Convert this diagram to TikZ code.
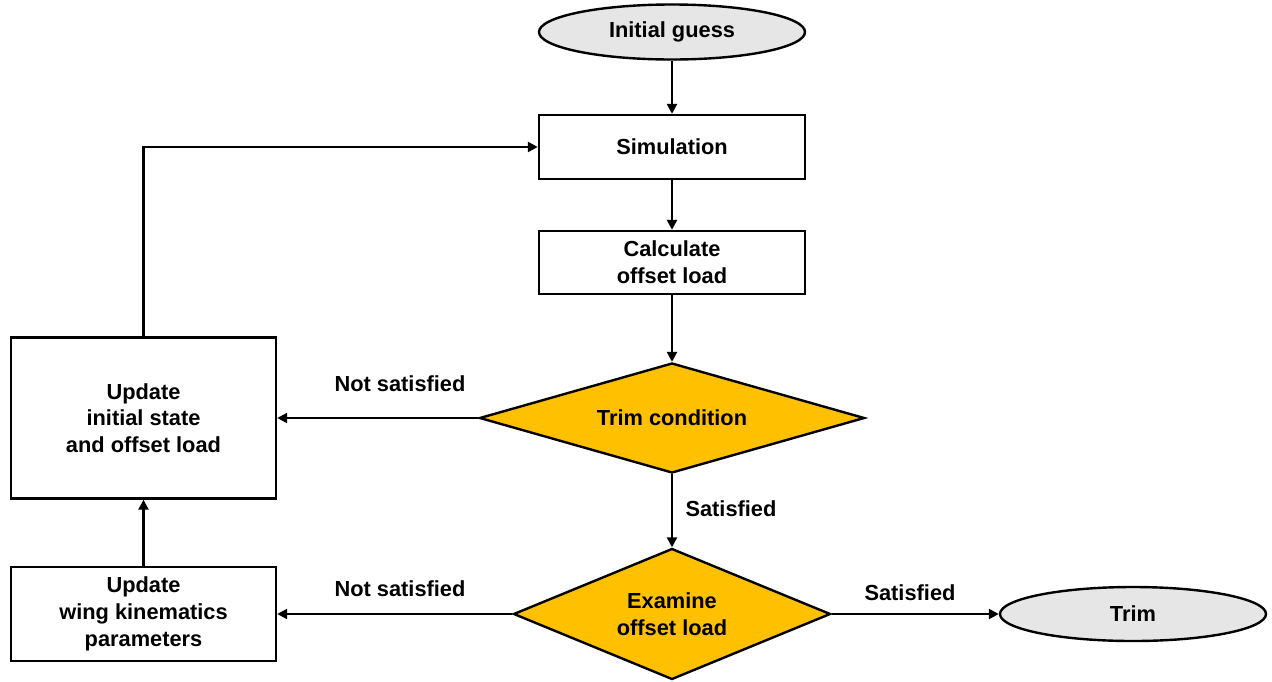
\documentclass[tikz,border=0pt]{standalone}
\usepackage{fontspec}
\setmainfont{Liberation Sans}
\usetikzlibrary{shapes.geometric,arrows.meta}
\definecolor{gold}{HTML}{FFC000}
\definecolor{lgray}{HTML}{E6E6E6}
\begin{document}
\begin{tikzpicture}[x=1pt,y=-1pt,
  every node/.style={font=\fontsize{21.8}{26.7}\selectfont\bfseries, align=center},
  boxnode/.style={draw, line width=2.4pt, fill=white, inner sep=0pt},
  ovalnode/.style={draw, line width=2.4pt, fill=lgray, ellipse, inner sep=0pt, minimum width=266pt, minimum height=55pt},
  decnode/.style={draw, line width=2.4pt, fill=gold, diamond, inner sep=0pt},
  lbl/.style={inner sep=0pt},
  conn/.style={line width=2.4pt, -{Triangle[length=10pt,width=10pt]}}]
\useasboundingbox (0,0) rectangle (1272,681);
\node[ovalnode] (init) at (672,32) {Initial guess};
\node[boxnode, minimum width=266pt, minimum height=64pt] (sim) at (672,147) {Simulation};
\node[boxnode, minimum width=266pt, minimum height=63pt] (calc) at (672,262.5) {Calculate\\offset load};
\node[decnode, aspect=3.5, minimum width=385pt, minimum height=110pt] (trimc) at (672,418) {Trim condition};
\node[boxnode, minimum width=265pt, minimum height=161pt] (upd1) at (143.5,418) {Update\\initial state\\and offset load};
\node[boxnode, minimum width=265pt, minimum height=94pt] (upd2) at (143.5,614) {Update\\wing kinematics\\parameters};
\node[decnode, aspect=2.4, minimum width=317pt, minimum height=131pt] (exam) at (672,614) {Examine\\offset load};
\node[ovalnode, minimum height=54pt] (trim) at (1133,614) {Trim};
\node[lbl] (l1) at (400,384) {Not satisfied};
\node[lbl] (l2) at (731,509) {Satisfied};
\node[lbl] (l3) at (400,589) {Not satisfied};
\node[lbl] (l4) at (910,593) {Satisfied};
\draw[conn] (init) -- (sim);
\draw[conn] (sim) -- (calc);
\draw[conn] (calc) -- (trimc);
\draw[conn] (trimc) -- (exam);
\draw[conn] (trimc.west) -- (upd1.east);
\draw[conn] (exam.west) -- (upd2.east);
\draw[conn] (exam.east) -- (trim.west);
\draw[conn] (upd2) -- (upd1);
\draw[conn] (upd1.north) |- (sim.west);
\end{tikzpicture}
\end{document}
